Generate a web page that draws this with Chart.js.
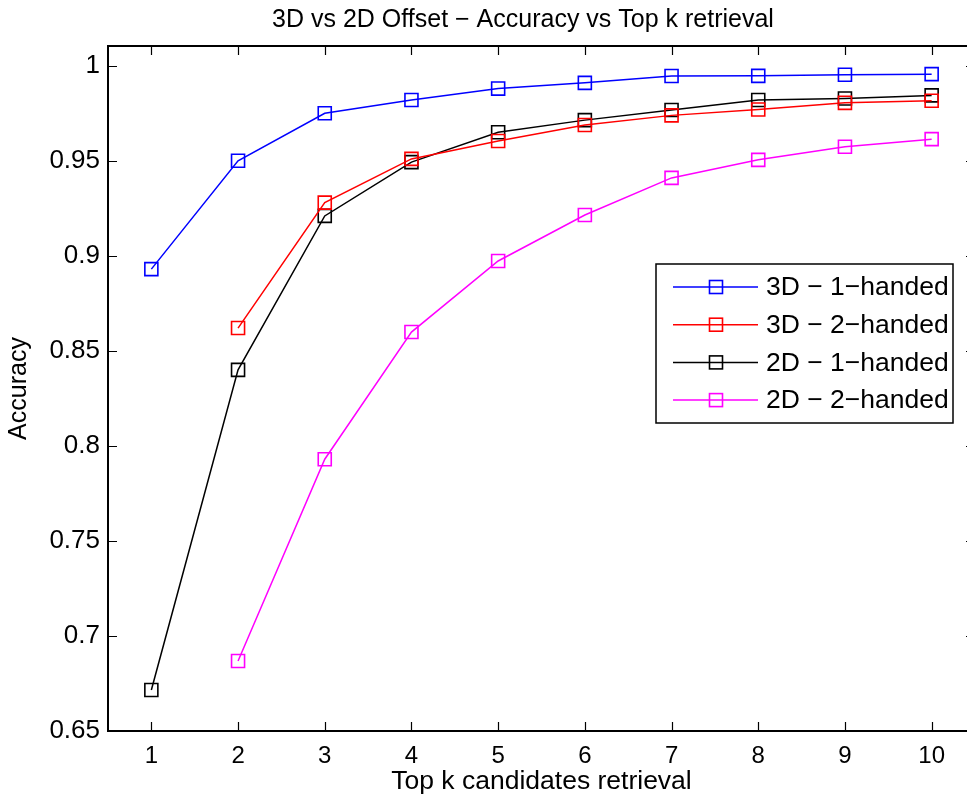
<!DOCTYPE html>
<html>
<head>
<meta charset="utf-8">
<script src="https://cdn.jsdelivr.net/npm/chart.js@4.4.1/dist/chart.umd.min.js"></script>
<style>
  html, body { margin: 0; padding: 0; background: #fff; }
  #wrap { width: 967px; height: 802px; }
  #chart { display: block; }
</style>
</head>
<body>
<div id="wrap"><canvas id="chart" width="967" height="802"></canvas></div>
<script>
// values
const kValues = [1, 2, 3, 4, 5, 6, 7, 8, 9, 10];
const acc3D1 = [0.893, 0.950, 0.975, 0.982, 0.988, 0.991, 0.9946, 0.9947, 0.9953, 0.9956];
const acc3D2 = [null, 0.862, 0.928, 0.951, 0.9604, 0.9688, 0.9739, 0.977, 0.9805, 0.9816];
const acc2D1 = [0.6716, 0.840, 0.921, 0.9493, 0.965, 0.9714, 0.9767, 0.982, 0.9828, 0.9844];
const acc2D2 = [null, 0.6868, 0.793, 0.8599, 0.8973, 0.9215, 0.941, 0.9505, 0.9574, 0.9614];

const seriesLabels = ["3D \u2212 1\u2212handed", "3D \u2212 2\u2212handed", "2D \u2212 1\u2212handed", "2D \u2212 2\u2212handed"];
const seriesColors = ["#0000ff", "#ff0000", "#000000", "#ff00ff"];

const xTicks = [1, 2, 3, 4, 5, 6, 7, 8, 9, 10];
const yTicks = [0.65, 0.7, 0.75, 0.8, 0.85, 0.9, 0.95, 1];

const FONT = "'Liberation Sans', Arial, Helvetica, sans-serif";

function toPoints(values) {
  return kValues
    .map((k, i) => ({ x: k, y: values[i] }))
    .filter(p => p.y !== null);
}

const allSeries = [acc3D1, acc3D2, acc2D1, acc2D2];

const datasets = allSeries.map((values, i) => ({
  label: seriesLabels[i],
  data: toPoints(values),
  borderColor: seriesColors[i],
  backgroundColor: "rgba(0,0,0,0)",
  borderWidth: 1.5,
  pointStyle: "rect",
  pointRadius: 9.2,
  pointBorderWidth: 1.6,
  pointBorderColor: seriesColors[i],
  pointBackgroundColor: "rgba(0,0,0,0)",
  tension: 0
}));

// the axes box in the original runs a bit past the right edge of the image
const PLOT_RIGHT = 975;

const framePlugin = {
  id: "frame",
  afterLayout(chart) {
    const a = chart.chartArea;
    const x = chart.scales.x;
    a.right = PLOT_RIGHT;
    a.width = a.right - a.left;
    x.right = PLOT_RIGHT;
    x.width = x.right - x.left;
    x.configure();
  },
  afterDatasetsDraw(chart) {
    const { ctx, chartArea: a, scales } = chart;
    const len = 9;
    ctx.save();
    ctx.strokeStyle = "#000";
    ctx.lineWidth = 1.2;
    ctx.beginPath();
    scales.x.ticks.forEach(t => {
      const px = Math.round(scales.x.getPixelForValue(t.value)) + 0.5;
      ctx.moveTo(px, a.bottom); ctx.lineTo(px, a.bottom - len);
      ctx.moveTo(px, a.top); ctx.lineTo(px, a.top + len);
    });
    scales.y.ticks.forEach(t => {
      const py = Math.round(scales.y.getPixelForValue(t.value)) + 0.5;
      ctx.moveTo(a.left, py); ctx.lineTo(a.left + len, py);
      ctx.moveTo(a.right, py); ctx.lineTo(a.right - len, py);
    });
    ctx.stroke();

    ctx.lineWidth = 2;
    ctx.beginPath();
    ctx.moveTo(a.right, a.top);
    ctx.lineTo(a.left, a.top);
    ctx.lineTo(a.left, a.bottom);
    ctx.lineTo(a.right, a.bottom);
    ctx.lineTo(a.right, a.top);
    ctx.stroke();
    ctx.restore();
  },
  afterDraw(chart) {
    const { ctx } = chart;
    ctx.save();
    // title
    ctx.fillStyle = "#000";
    ctx.font = "25px " + FONT;
    ctx.textAlign = "center";
    ctx.textBaseline = "alphabetic";
    ctx.fillText("3D vs 2D Offset \u2212 Accuracy vs Top k retrieval", 523, 27);

    // legend box
    const box = { x: 656, y: 264, w: 297, h: 159 };
    ctx.fillStyle = "#fff";
    ctx.fillRect(box.x, box.y, box.w, box.h);
    ctx.strokeStyle = "#000";
    ctx.lineWidth = 1.5;
    ctx.strokeRect(box.x, box.y, box.w, box.h);

    chart.data.datasets.forEach((ds, i) => {
      const y = 287 + i * 37.7;
      ctx.strokeStyle = ds.borderColor;
      ctx.lineWidth = 1.5;
      ctx.beginPath();
      ctx.moveTo(673, y);
      ctx.lineTo(758, y);
      ctx.stroke();
      ctx.lineWidth = 1.6;
      ctx.strokeRect(716 - 6.5, y - 6.5, 13, 13);
      ctx.fillStyle = "#000";
      ctx.font = "26.5px " + FONT;
      ctx.textAlign = "left";
      ctx.textBaseline = "middle";
      ctx.fillText(ds.label, 766, y + 1);
    });
    ctx.restore();
  }
};

const ctx = document.getElementById("chart").getContext("2d");
new Chart(ctx, {
  type: "line",
  data: { datasets: datasets },
  options: {
    responsive: false,
    animation: false,
    devicePixelRatio: 1,
    layout: { padding: { top: 46, right: 1, left: 0, bottom: 0 } },
    plugins: {
      legend: { display: false },
      title: { display: false },
      tooltip: { enabled: false }
    },
    scales: {
      x: {
        type: "linear",
        min: 0.5,
        max: 10.5,
        afterBuildTicks: scale => { scale.ticks = xTicks.map(v => ({ value: v })); },
        afterFit: scale => { scale.height = 71; },
        grid: { display: false, drawTicks: false },
        border: { display: false },
        ticks: {
          color: "#000",
          padding: 11,
          maxRotation: 0,
          autoSkip: false,
          font: { family: FONT, size: 24 },
          callback: v => String(v)
        },
        title: {
          display: true,
          text: "Top k candidates retrieval",
          color: "#000",
          font: { family: FONT, size: 26.5 },
          padding: { top: 0, bottom: 4 }
        }
      },
      y: {
        type: "linear",
        min: 0.65,
        max: 1.0104,
        afterBuildTicks: scale => { scale.ticks = yTicks.map(v => ({ value: v })); },
        afterFit: scale => { scale.width = 108; },
        grid: { display: false, drawTicks: false },
        border: { display: false },
        ticks: {
          color: "#000",
          padding: 8,
          autoSkip: false,
          font: { family: FONT, size: 26 },
          callback: v => String(Number(v.toFixed(2)))
        },
        title: {
          display: true,
          text: "Accuracy",
          color: "#000",
          font: { family: FONT, size: 25 },
          padding: { top: 4, bottom: 0 }
        }
      }
    }
  },
  plugins: [framePlugin]
});
</script>
</body>
</html>
